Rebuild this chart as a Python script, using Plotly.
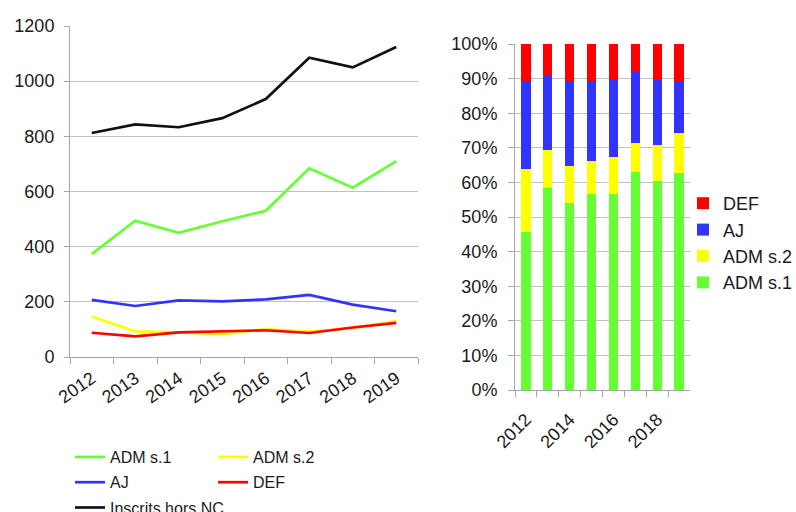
import plotly.graph_objects as go

W, H = 796, 512

years = ["2012", "2013", "2014", "2015", "2016", "2017", "2018", "2019"]
adm_s1 = [373, 494, 450, 492, 530, 684, 614, 710]
adm_s2 = [147, 93, 89, 83, 101, 92, 105, 130]
aj = [207, 185, 205, 202, 209, 225, 190, 166]
defa = [88, 75, 89, 93, 97, 87, 107, 124]
inscrits = [812, 843, 833, 866, 935, 1085, 1050, 1124]

left_yticks = [0, 200, 400, 600, 800, 1000, 1200]
right_yticks = [0, 10, 20, 30, 40, 50, 60, 70, 80, 90, 100]
right_ylabels = ["0%", "10%", "20%", "30%", "40%", "50%", "60%", "70%", "80%", "90%", "100%"]
right_xlabels = ["2012", "", "2014", "", "2016", "", "2018", ""]

GREEN = "#66FF33"
YELLOW = "#FFFF00"
BLUE = "#3333FF"
RED = "#FF0000"
BLACK = "#111111"
GRID = "#C0C0C0"
AXIS = "#A6A6A6"
FONT = "Liberation Sans, Arial, sans-serif"
TXT = "#1a1a1a"

def px_x(p):
    return p / W

def px_y(p):
    return (H - p) / H

fig = go.Figure()

line_series = [
    ("ADM s.1", adm_s1, GREEN, "legend"),
    ("ADM s.2", adm_s2, YELLOW, "legend2"),
    ("AJ", aj, BLUE, "legend"),
    ("DEF", defa, RED, "legend2"),
    ("Inscrits hors NC", inscrits, BLACK, "legend"),
]
for i, (name, vals, col, leg) in enumerate(line_series):
    fig.add_trace(go.Scatter(
        x=years, y=vals, name=name, mode="lines",
        line=dict(color=col, width=2.7),
        xaxis="x", yaxis="y", legend=leg, legendgroup="l%d" % i,
    ))

bar_series = [
    ("ADM s.1", adm_s1, GREEN),
    ("ADM s.2", adm_s2, YELLOW),
    ("AJ", aj, BLUE),
    ("DEF", defa, RED),
]
for i, (name, vals, col) in enumerate(bar_series):
    fig.add_trace(go.Bar(
        x=years, y=vals, name=name, marker=dict(color=col, line=dict(width=0)),
        xaxis="x2", yaxis="y2", legend="legend3", legendgroup="b%d" % i,
    ))

axis_font = dict(family=FONT, size=18, color=TXT)

fig.update_layout(
    width=W, height=H,
    margin=dict(l=0, r=0, t=0, b=0, autoexpand=False),
    paper_bgcolor="white", plot_bgcolor="white",
    font=dict(family=FONT, color=TXT),
    barmode="stack", barnorm="percent", bargap=0.58,
    xaxis=dict(
        domain=[px_x(70), px_x(418)], anchor="y", type="category",
        range=[-0.5, len(years) - 0.5],
        showgrid=False, showline=True, linecolor=AXIS, linewidth=1,
        ticks="outside", tickson="boundaries", ticklen=6, tickcolor=AXIS,
        tickangle=-35, tickfont=axis_font, zeroline=False, automargin=False,
        ticklabelshift=0, ticklabelstandoff=3,
    ),
    yaxis=dict(
        domain=[px_y(357), px_y(26)], anchor="x", range=[0, 1200],
        tickvals=left_yticks, showgrid=True, gridcolor=GRID, gridwidth=1,
        showline=True, linecolor=AXIS, linewidth=1,
        ticks="outside", ticklen=5, tickcolor=AXIS, tickfont=axis_font,
        zeroline=False, automargin=False, ticklabelstandoff=6,
    ),
    xaxis2=dict(
        domain=[px_x(515), px_x(690)], anchor="y2", type="category",
        showgrid=False, showline=True, linecolor=AXIS, linewidth=1,
        ticks="outside", tickson="boundaries", ticklen=6, tickcolor=AXIS,
        tickvals=years, ticktext=right_xlabels,
        tickangle=-45, tickfont=axis_font, zeroline=False, automargin=False,
        ticklabelstandoff=11,
    ),
    yaxis2=dict(
        domain=[px_y(390), px_y(44)], anchor="x2", range=[0, 100],
        tickvals=right_yticks, ticktext=right_ylabels, showgrid=True,
        gridcolor=GRID, gridwidth=1, showline=True, linecolor=AXIS, linewidth=1,
        ticks="outside", ticklen=6, tickcolor=AXIS, tickfont=axis_font,
        zeroline=False, automargin=False, ticklabelstandoff=7,
    ),
    legend=dict(
        x=px_x(70), y=px_y(440), xanchor="left", yanchor="top",
        font=dict(family=FONT, size=16, color=TXT), bgcolor="rgba(0,0,0,0)",
        tracegroupgap=1.5, orientation="v",
    ),
    legend2=dict(
        x=px_x(213), y=px_y(440), xanchor="left", yanchor="top",
        font=dict(family=FONT, size=16, color=TXT), bgcolor="rgba(0,0,0,0)",
        tracegroupgap=1.5, orientation="v",
    ),
    legend3=dict(
        x=px_x(683), y=px_y(185), xanchor="left", yanchor="top",
        font=dict(family=FONT, size=18, color=TXT), bgcolor="rgba(0,0,0,0)",
        tracegroupgap=3, orientation="v", traceorder="reversed",
    ),
)

fig.write_html("out.html", config={"displayModeBar": False},
               post_script="document.body.style.margin='0';")
